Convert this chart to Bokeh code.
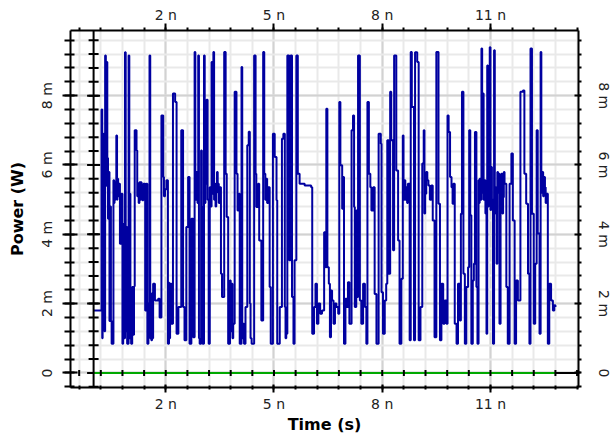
import math
from bokeh.plotting import figure
from bokeh.models import Range1d, LinearAxis, FixedTicker, Span, Grid
from bokeh.embed import file_html
from bokeh.resources import INLINE

# ---------------- data: (time in ns, power in mW), in four stretches ----------------
trace_0_3ns = [
    (0.00, 1.80), (0.22, 7.60), (0.24, 1.00), (0.25, 6.70), (0.27, 3.20), (0.28, 6.90), (0.30, 1.20),
    (0.32, 9.16), (0.34, 5.40), (0.36, 8.97), (0.38, 6.20), (0.40, 4.45), (0.42, 5.80), (0.44, 1.50),
    (0.46, 4.80), (0.48, 1.50), (0.50, 0.84), (0.55, 5.56), (0.57, 4.90), (0.58, 5.50), (0.60, 5.00),
    (0.61, 5.46), (0.63, 6.85), (0.65, 5.00), (0.66, 5.60), (0.68, 5.10), (0.70, 5.46), (0.73, 3.73),
    (0.77, 5.17), (0.80, 0.84), (0.82, 4.30), (0.84, 1.00), (0.87, 9.25), (0.89, 1.20), (0.91, 4.21),
    (0.93, 0.84), (0.97, 9.16), (0.99, 1.00), (1.01, 5.17), (1.02, 2.00), (1.04, 0.84), (1.07, 2.48),
    (1.10, 1.10), (1.12, 2.50), (1.14, 7.00), (1.19, 6.42), (1.21, 5.10), (1.23, 5.46), (1.25, 4.90),
    (1.27, 5.50), (1.29, 5.00), (1.31, 5.50), (1.33, 5.36), (1.35, 4.98), (1.38, 5.46), (1.43, 1.80),
    (1.46, 5.46), (1.49, 0.84), (1.52, 2.00), (1.55, 9.16), (1.57, 1.00), (1.60, 0.94), (1.62, 2.30),
    (1.63, 1.00), (1.65, 2.57), (1.70, 2.09), (1.79, 2.14), (1.83, 1.60), (1.88, 7.43), (1.93, 5.65),
    (1.95, 5.10), (1.98, 5.30), (2.02, 5.56), (2.06, 0.84), (2.09, 2.60), (2.10, 1.00), (2.12, 2.57),
    (2.16, 1.42), (2.20, 8.06), (2.26, 7.82), (2.30, 1.13), (2.35, 1.90), (2.43, 7.00), (2.48, 1.90),
    (2.52, 0.94), (2.57, 4.21), (2.62, 5.65), (2.66, 0.84), (2.71, 4.45), (2.76, 1.03), (2.80, 9.26),
    (2.82, 5.00), (2.85, 5.80), (2.88, 4.90), (2.90, 9.16), (2.92, 1.00), (2.94, 0.84), (2.98, 6.42),
    (3.00, 4.80), (3.02, 0.84),
]
trace_3_6ns = [
    (3.06, 9.16), (3.08, 4.90), (3.10, 5.46), (3.13, 7.88), (3.16, 5.00), (3.19, 0.84), (3.22, 5.36),
    (3.24, 4.80), (3.27, 8.97), (3.30, 5.17), (3.32, 9.26), (3.34, 5.00), (3.36, 5.46), (3.38, 4.80),
    (3.40, 5.20), (3.42, 5.80), (3.44, 5.46), (3.47, 4.90), (3.50, 5.36), (3.53, 2.86), (3.56, 2.19),
    (3.62, 9.26), (3.66, 5.75), (3.69, 4.50), (3.73, 0.84), (3.78, 2.67), (3.80, 1.20), (3.82, 2.57),
    (3.85, 1.00), (3.87, 1.42), (3.91, 8.11), (3.96, 5.75), (3.99, 4.69), (4.03, 5.17), (4.05, 0.84),
    (4.10, 8.83), (4.12, 1.00), (4.14, 1.42), (4.17, 0.84), (4.21, 1.90), (4.26, 6.57), (4.30, 6.96),
    (4.33, 2.00), (4.35, 1.00), (4.38, 0.84), (4.45, 9.16), (4.49, 5.75), (4.51, 4.79), (4.56, 5.46),
    (4.59, 3.82), (4.65, 1.51), (4.70, 9.26), (4.73, 5.75), (4.76, 5.00), (4.79, 5.60), (4.81, 4.90),
    (4.84, 5.36), (4.88, 2.48), (4.91, 0.84), (4.97, 6.90), (5.02, 6.23), (5.07, 4.98), (5.09, 0.84),
    (5.16, 1.90), (5.22, 6.76), (5.26, 6.90), (5.30, 1.90), (5.32, 1.00), (5.34, 1.13), (5.37, 9.16),
    (5.42, 3.25), (5.46, 9.16), (5.50, 2.19), (5.54, 0.84), (5.57, 3.25), (5.62, 9.16), (5.66, 5.75),
    (5.71, 5.46), (5.85, 5.41), (6.03, 5.36), (6.06, 1.13), (6.11, 1.90), (6.15, 2.57), (6.19, 1.42),
    (6.23, 2.00), (6.28, 1.71), (6.33, 1.80), (6.39, 4.06),
]
trace_6_9ns = [
    (6.43, 3.05), (6.45, 7.62), (6.48, 3.05), (6.52, 2.57), (6.55, 1.03), (6.58, 2.38), (6.61, 2.09),
    (6.65, 1.42), (6.69, 2.00), (6.73, 1.90), (6.78, 1.71), (6.81, 7.82), (6.84, 5.99), (6.89, 4.74),
    (6.92, 5.65), (6.94, 0.84), (6.98, 2.14), (7.02, 1.90), (7.05, 2.62), (7.09, 1.42), (7.15, 7.00),
    (7.19, 7.43), (7.22, 4.79), (7.24, 1.90), (7.28, 4.69), (7.31, 2.19), (7.33, 9.16), (7.38, 2.09),
    (7.42, 1.42), (7.47, 2.57), (7.52, 1.90), (7.56, 0.84), (7.59, 7.82), (7.63, 5.75), (7.67, 5.36),
    (7.70, 4.69), (7.75, 5.36), (7.79, 2.28), (7.84, 0.84), (7.90, 6.90), (7.96, 6.61), (7.98, 2.33),
    (8.02, 1.13), (8.07, 2.09), (8.11, 2.57), (8.14, 6.71), (8.18, 2.86), (8.22, 8.11), (8.25, 6.71),
    (8.30, 3.54), (8.33, 9.16), (8.39, 5.84), (8.44, 3.82), (8.48, 0.84), (8.53, 2.72), (8.57, 6.85),
    (8.59, 5.00), (8.62, 5.56), (8.64, 5.00), (8.67, 5.36), (8.69, 4.90), (8.71, 5.46), (8.76, 0.94),
    (8.79, 9.26), (8.82, 7.67), (8.88, 0.94), (8.91, 9.25), (8.97, 8.97), (9.01, 0.94), (9.06, 1.90),
    (9.11, 6.04), (9.15, 7.00), (9.17, 4.60), (9.19, 5.17), (9.22, 5.80), (9.25, 5.56), (9.28, 5.41),
    (9.32, 5.00), (9.36, 5.41), (9.40, 4.40), (9.45, 1.03), (9.50, 9.26), (9.56, 4.88), (9.60, 0.94),
]
trace_9_13ns = [
    (9.64, 2.57), (9.69, 1.42), (9.73, 2.09), (9.78, 1.42), (9.81, 7.43), (9.84, 6.95), (9.88, 5.65),
    (9.92, 5.36), (9.95, 4.88), (9.97, 5.46), (10.01, 1.42), (10.06, 0.84), (10.10, 2.57), (10.15, 1.51),
    (10.18, 4.59), (10.21, 8.11), (10.25, 2.86), (10.29, 0.84), (10.33, 2.48), (10.38, 3.05), (10.41, 7.00),
    (10.44, 4.55), (10.47, 0.84), (10.51, 2.67), (10.54, 3.15), (10.57, 6.95), (10.61, 2.48), (10.64, 0.84),
    (10.67, 5.56), (10.69, 4.90), (10.70, 5.60), (10.72, 5.00), (10.75, 9.36), (10.77, 5.20), (10.79, 8.06),
    (10.81, 5.00), (10.84, 5.56), (10.86, 4.60), (10.89, 1.13), (10.91, 8.87), (10.93, 4.80), (10.95, 5.75),
    (10.98, 9.40), (11.00, 4.70), (11.02, 5.94), (11.04, 5.00), (11.07, 0.84), (11.10, 9.31), (11.12, 4.60),
    (11.13, 5.36), (11.15, 4.70), (11.17, 3.15), (11.19, 5.80), (11.21, 5.20), (11.23, 5.75), (11.25, 1.42),
    (11.28, 5.00), (11.30, 5.75), (11.33, 4.60), (11.35, 5.07), (11.37, 5.80), (11.39, 5.46), (11.44, 2.48),
    (11.48, 0.84), (11.53, 5.46), (11.58, 6.33), (11.62, 4.40), (11.67, 0.84), (11.71, 2.67), (11.76, 2.09),
    (11.83, 8.11), (11.90, 8.15), (11.94, 5.75), (11.99, 4.88), (12.04, 2.86), (12.08, 0.84), (12.11, 9.36),
    (12.15, 4.59), (12.20, 1.42), (12.24, 3.15), (12.28, 7.00), (12.31, 4.02), (12.36, 1.13), (12.39, 9.26),
    (12.41, 5.20), (12.43, 5.80), (12.46, 5.10), (12.48, 5.65), (12.51, 5.36), (12.53, 4.90), (12.55, 5.17),
    (12.59, 0.84), (12.63, 2.57), (12.68, 2.09), (12.73, 1.80), (12.77, 1.95), (12.80, 1.90),
]
baseline_mw = [0.0, 0.0]

x_major = [2, 5, 8, 11]
x_major_labels = ["2 n", "5 n", "8 n", "11 n"]
x_minor = [-0.4, 0.2, 0.8, 1.4, 2.0, 2.6, 3.2, 3.8, 4.4, 5.0, 5.6, 6.2, 6.8, 7.4,
           8.0, 8.6, 9.2, 9.8, 10.4, 11.0, 11.6, 12.2, 12.8, 13.4]
y_major = [0, 2, 4, 6, 8]
y_major_labels = ["0", "2 m", "4 m", "6 m", "8 m"]
y_minor = [-0.4, 0.0, 0.4, 0.8, 1.2, 1.6, 2.0, 2.4, 2.8, 3.2, 3.6, 4.0, 4.4, 4.8, 5.2,
           5.6, 6.0, 6.4, 6.8, 7.2, 7.6, 8.0, 8.4, 8.8, 9.2, 9.6]

X_MIN, X_MAX = -0.64, 13.44
Y_MIN, Y_MAX = -0.42, 9.88

trace = trace_0_3ns + trace_3_6ns + trace_6_9ns + trace_9_13ns
time_ns = [t for t, _ in trace]
power_mw = [v for _, v in trace]

# ---------------- figure ----------------
p = figure(width=614, height=437, x_range=Range1d(X_MIN, X_MAX), y_range=Range1d(Y_MIN, Y_MAX),
           output_backend="svg", toolbar_location=None, x_axis_type=None, y_axis_type=None,
           min_border_left=70, min_border_right=34, min_border_top=30, min_border_bottom=50)
p.outline_line_color = None
p.background_fill_color = "white"
p.border_fill_color = "white"

xt = FixedTicker(ticks=x_major, minor_ticks=x_minor)
yt = FixedTicker(ticks=y_major, minor_ticks=y_minor)
x_over = {v: s for v, s in zip(x_major, x_major_labels)}
y_over = {v: s for v, s in zip(y_major, y_major_labels)}

p.add_layout(Grid(dimension=0, ticker=xt, grid_line_color="#d2d2d2", grid_line_width=2,
                  minor_grid_line_color="#e9e9e9", minor_grid_line_width=2))
p.add_layout(Grid(dimension=1, ticker=yt, grid_line_color="#d2d2d2", grid_line_width=2,
                  minor_grid_line_color="#e9e9e9", minor_grid_line_width=2))

LABEL_FONT = "DejaVu Sans"


def style(ax, mti, mto, nti, nto, standoff):
    ax.axis_line_color = "black"
    ax.axis_line_width = 2
    ax.major_tick_line_width = 2
    ax.minor_tick_line_width = 2
    ax.major_tick_in = mti
    ax.major_tick_out = mto
    ax.minor_tick_in = nti
    ax.minor_tick_out = nto
    ax.major_label_standoff = standoff
    ax.major_label_text_font = LABEL_FONT
    ax.major_label_text_font_size = "14px"
    ax.major_label_text_color = "#222222"
    ax.axis_label_text_font = LABEL_FONT
    ax.axis_label_text_font_style = "bold"
    ax.axis_label_text_font_size = "16px"
    ax.axis_label_text_color = "black"


bottom = LinearAxis(ticker=xt, major_label_overrides=x_over, axis_label="Time (s)")
style(bottom, 3, 5, 2, 2, 3)
bottom.axis_label_standoff = 0
p.add_layout(bottom, "below")

top = LinearAxis(ticker=xt, major_label_overrides=x_over)
style(top, 0, 7, 0, 3, 1)
p.add_layout(top, "above")

left = LinearAxis(ticker=yt, major_label_overrides=y_over, axis_label="Power (W)",
                  major_label_orientation="vertical")
style(left, 7, 8, 4, 6, 7)
left.axis_label_standoff = 10
p.add_layout(left, "left")

right = LinearAxis(ticker=yt, major_label_overrides=y_over, major_label_orientation="vertical")
style(right, 4, 2, 0, 3, 14)
p.add_layout(right, "right")

# inner vertical axis at t = start of the time window
t0 = time_ns[0]
p.add_layout(Span(location=t0, dimension="height", line_color="black", line_width=2))
p.dash(x=[t0] * len(y_minor), y=y_minor, size=10, line_color="black", line_width=2)
p.dash(x=[t0] * len(y_major), y=y_major, size=13, line_color="black", line_width=2)

# zero baseline (green over the time window, black beyond)
p.line(x=[time_ns[0], time_ns[-1]], y=baseline_mw, line_color="#00A800", line_width=2)
p.line(x=[time_ns[-1], X_MAX], y=baseline_mw, line_color="black", line_width=2)
p.dash(x=x_minor, y=[0.0] * len(x_minor), angle=math.pi / 2, size=6, line_color="black", line_width=2)

# signal
p.step(x=time_ns, y=power_mw, mode="after", line_color="#0000A0", line_width=2)

open("out.html", "w").write(file_html(p, INLINE))
